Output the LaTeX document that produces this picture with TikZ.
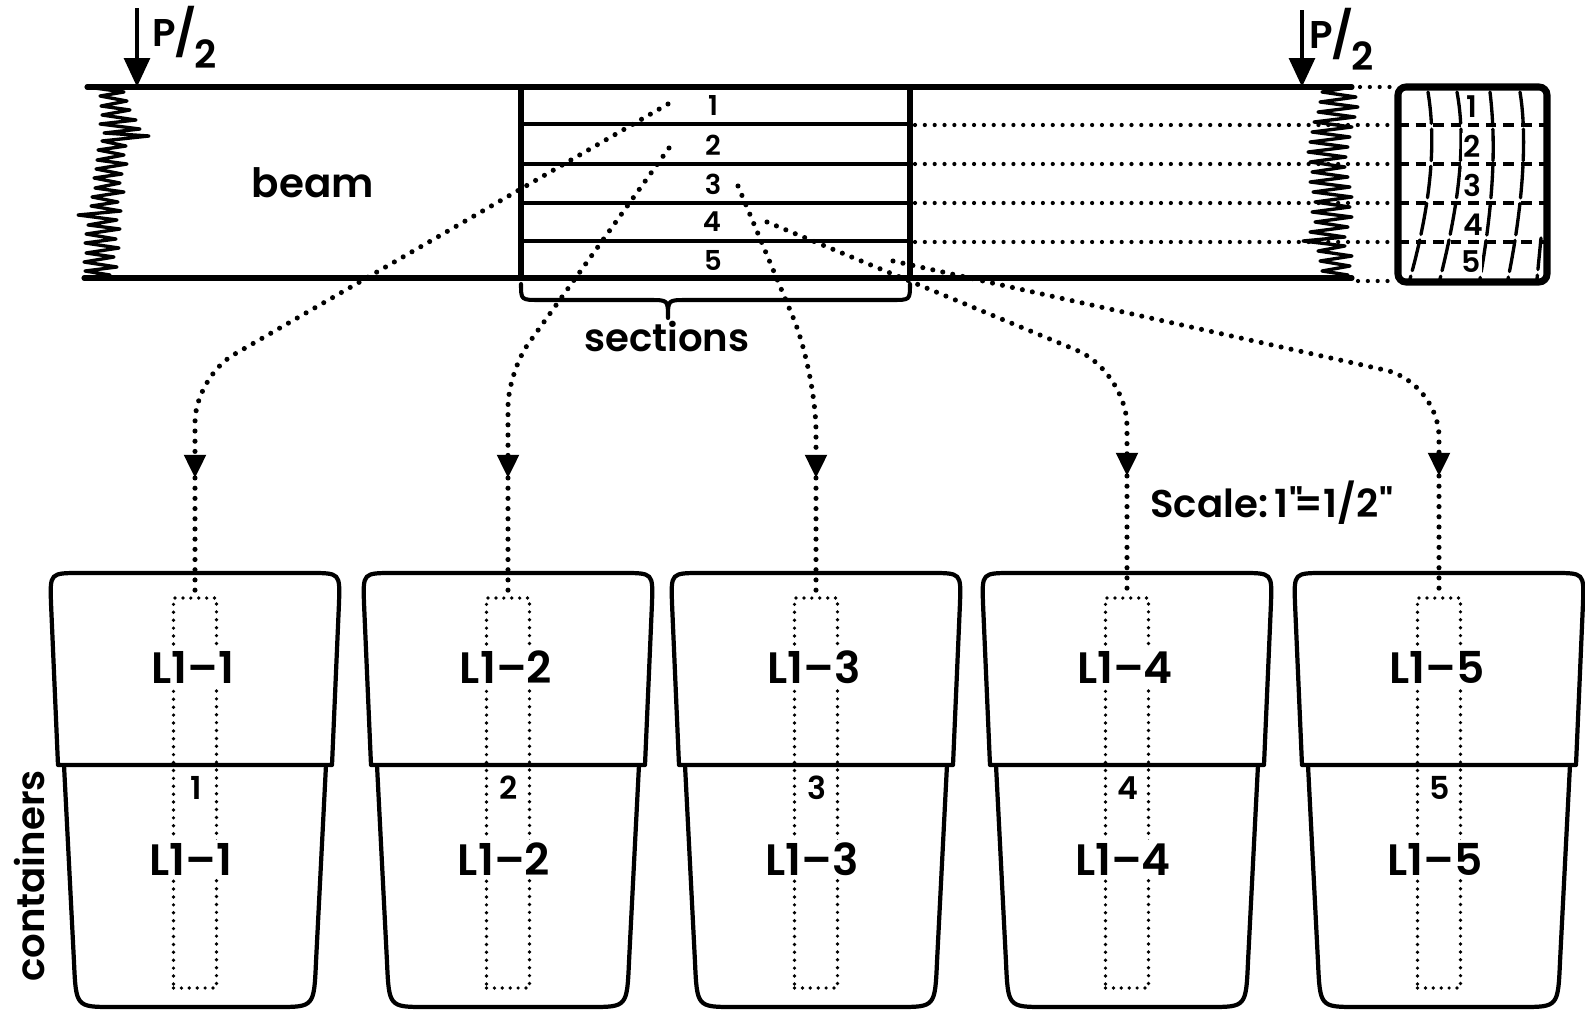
\documentclass[tikz,border=0pt]{standalone}
\usepackage{fontspec}
\setmainfont{Poppins}
\newfontfamily\semib{Poppins SemiBold}[Ligatures=TeX]
\newfontfamily\semibplain{Poppins SemiBold}
\usetikzlibrary{arrows.meta}

\begin{document}
\begin{tikzpicture}[x=0.1mm,y=-0.1mm,
  outline/.style={line width=1.45pt, line join=round, line cap=round},
  partline/.style={line width=1.15pt, line cap=round},
  jag/.style={line width=0.95pt, line join=round, line cap=round},
  cup/.style={line width=1.2pt, line join=round},
  dots/.style={line width=1.45pt, line cap=round, dash pattern=on 0pt off 2.9pt},
  leader/.style={line width=1.2pt, line cap=round, dash pattern=on 0pt off 2.8pt},
  smalldots/.style={line width=1.05pt, line cap=round, dash pattern=on 0pt off 2.25pt},
  headtip/.style={-{Triangle[length=6.6pt,width=6pt]}},
  loadarrow/.style={line width=1.3pt, -{Triangle[length=8.2pt,width=7.2pt]}},
  grain/.style={line width=0.95pt, line cap=round, dash pattern=on 9pt off 1.6pt},
  xdash/.style={line width=0.95pt, dash pattern=on 3pt off 2pt},
  secnum/.style={font=\semib\fontsize{7.8}{8}\selectfont, inner sep=0.5pt},
  xnum/.style={font=\semib\fontsize{8.5}{9}\selectfont, inner sep=0.5pt},
  tag/.style={font=\semib\fontsize{12.5}{14}\selectfont, fill=white, inner sep=0.8pt},
  midnum/.style={font=\semib\fontsize{9}{10}\selectfont, inner sep=0.5pt},
  word/.style={font=\semib\fontsize{11}{13}\selectfont, inner sep=0pt},
  load/.style={anchor=base west, inner sep=0pt, font=\semib\fontsize{11}{11}\selectfont}
]
\useasboundingbox (0,0) rectangle (1585,1012);

% ---------- beam ----------
\draw[outline] (87,87) -- (1352,87);
\draw[outline] (84,278) -- (1352,278);
% broken left end
\draw[jag] plot coordinates {(87,87) (124,92) (100,96) (127,101) (101,106) (130,110) (102,115)
  (136,120) (100,124) (140,129) (104,133) (149,136) (102,141) (126,146) (98,150) (124,155)
  (97,160) (127,164) (96,169) (122,174) (94,178) (120,183) (95,188) (124,192) (92,197)
  (118,202) (91,206) (121,211) (78,215) (117,220) (88,225) (120,229) (86,234) (116,239)
  (85,243) (119,248) (86,253) (114,257) (84,262) (117,267) (85,271) (110,275) (84,278)};
% broken right end
\draw[jag] plot coordinates {(1352,87) (1322,92) (1356,97) (1320,102) (1358,107) (1318,112)
  (1355,117) (1314,122) (1352,127) (1312,132) (1350,137) (1310,142) (1348,147) (1308,152)
  (1346,157) (1310,162) (1345,167) (1312,172) (1348,177) (1310,182) (1350,187) (1313,192)
  (1352,197) (1315,202) (1350,207) (1312,212) (1352,217) (1315,222) (1348,227) (1310,232)
  (1345,237) (1303,241) (1345,246) (1318,251) (1352,256) (1320,261) (1350,266) (1322,271)
  (1348,275) (1330,278) (1352,278)};

% sections cut from the beam
\draw[outline] (521,87) -- (521,278);
\draw[outline] (910,87) -- (910,278);
\foreach \yy in {124,164,203,241} \draw[partline] (521,\yy) -- (910,\yy);
\node[secnum] (n1) at (713,106) {1};
\node[secnum] (n2) at (713,145) {2};
\node[secnum] (n3) at (713,184) {3};
\node[secnum] (n4) at (712,222) {4};
\node[secnum] (n5) at (713,260) {5};

% brace and label
\draw[partline, line join=round] (521,284) .. controls (521,300) .. (540,300) -- (650,300)
  .. controls (668,300) .. (668,318) .. controls (668,300) .. (686,300) -- (892,300)
  .. controls (910,300) .. (910,284);
\node[word] (seclbl) at (667,337) {sections};
\node[word, font=\semib\fontsize{11.5}{13}\selectfont] (beamlbl) at (313,183) {beam};

% loads
\coordinate (lt) at (137,8);  \coordinate (lh) at (137,87);
\coordinate (rt) at (1302,10); \coordinate (rh) at (1302,87);
\draw[loadarrow] (lt) -- (lh);
\draw[loadarrow] (rt) -- (rh);
\node[load] (pl) at (152,49)
  {\raisebox{0.8pt}{P}\kern-0.6pt{\fontsize{13}{13}\selectfont/}\kern-0.4pt\raisebox{-5.6pt}{2}};
\node[load] (pr) at (1309,51)
  {\raisebox{0.8pt}{P}\kern-0.6pt{\fontsize{13}{13}\selectfont/}\kern-0.4pt\raisebox{-5.6pt}{2}};

% projection of the section planes onto the cross-section
\foreach \yy in {125,164,203,242} \draw[leader] (915,\yy) -- (1396,\yy);
\draw[leader] (1360,87) -- (1396,87);
\draw[leader] (1358,281) -- (1396,281);

% ---------- cross-section ----------
\draw[line width=2pt, rounded corners=0.8mm] (1398,87) rectangle (1547,282);
\foreach \yy in {125,164,203,242} \draw[xdash] (1398,\yy) -- (1547,\yy);
\draw[grain] (1428,92) .. controls (1436,140) and (1432,200) .. (1410,279);
\draw[grain] (1457,92) .. controls (1466,140) and (1460,200) .. (1440,279);
\draw[grain] (1490,92) .. controls (1497,150) and (1492,210) .. (1480,279);
\draw[grain] (1520,92) .. controls (1528,140) and (1522,210) .. (1508,279);
\draw[grain] (1541,238) -- (1537,279);
\node[xnum, fill=white] (c1) at (1472,107) {1};
\node[xnum, fill=white] (c2) at (1472,146) {2};
\node[xnum, fill=white] (c3) at (1472,185) {3};
\node[xnum, fill=white] (c4) at (1473,225) {4};
\node[xnum, fill=white] (c5) at (1471,262) {5};

% ---------- containers ----------
\foreach \i/\cx in {1/195,2/508,3/816,4/1127,5/1439}{
  % lid
  \draw[cup] ({\cx-137},765) -- ({\cx-144},603) .. controls ({\cx-145},573) .. ({\cx-115},573)
    -- ({\cx+115},573) .. controls ({\cx+145},573) .. ({\cx+144},603) -- ({\cx+137},765) -- cycle;
  % cup
  \draw[cup] ({\cx-131},765) -- ({\cx-121},962) .. controls ({\cx-119},1007) .. ({\cx-82},1007)
    -- ({\cx+82},1007) .. controls ({\cx+119},1007) .. ({\cx+121},962) -- ({\cx+131},765);
  % specimen outline
  \node[draw, smalldots, minimum width=4.3mm, minimum height=39mm, inner sep=0pt] (rect\i) at (\cx,793) {};
  \node[tag] (top\i) at ({\cx-2},667) {L1–\i};
  \node[midnum] (mid\i) at ({\cx+1},788) {\i};
  \node[tag] (low\i) at ({\cx-4},859) {L1–\i};
}

% ---------- routing of each section to its container ----------
\coordinate (s1) at (668,104);  \coordinate (k1) at (195,377);  \coordinate (a1) at (195,478);
\coordinate (s2) at (669,148);  \coordinate (k2) at (508,372);  \coordinate (a2) at (508,478);
\coordinate (s3) at (738,186);  \coordinate (k3) at (816,372);  \coordinate (a3) at (816,478);
\coordinate (s4) at (767,222);  \coordinate (k4) at (1127,371); \coordinate (a4) at (1127,476);
\coordinate (s5) at (893,261);  \coordinate (k5) at (1439,382); \coordinate (a5) at (1439,476);

\draw[dots, headtip, rounded corners=4.5mm] (s1) -- (k1) -- (a1);
\draw[dots, headtip, rounded corners=3.5mm] (s2) -- (k2) -- (a2);
\draw[dots, headtip, rounded corners=6mm]   (s3) -- (k3) -- (a3);
\draw[dots, headtip, rounded corners=5.5mm] (s4) -- (k4) -- (a4);
\draw[dots, headtip, rounded corners=5.5mm] (s5) -- (k5) -- (a5);
\foreach \i in {1,...,5} \draw[dots] (a\i) -- (rect\i.north);

% ---------- captions ----------
\node[word, font=\semibplain\fontsize{11}{13}\selectfont] (scale) at (1272,503)
  {Scale:\,1\kern0.3pt"\kern-2.5pt=1/2\kern0.3pt"};
\node[word, rotate=90] (cont) at (30,876) {containers};
\end{tikzpicture}
\end{document}
